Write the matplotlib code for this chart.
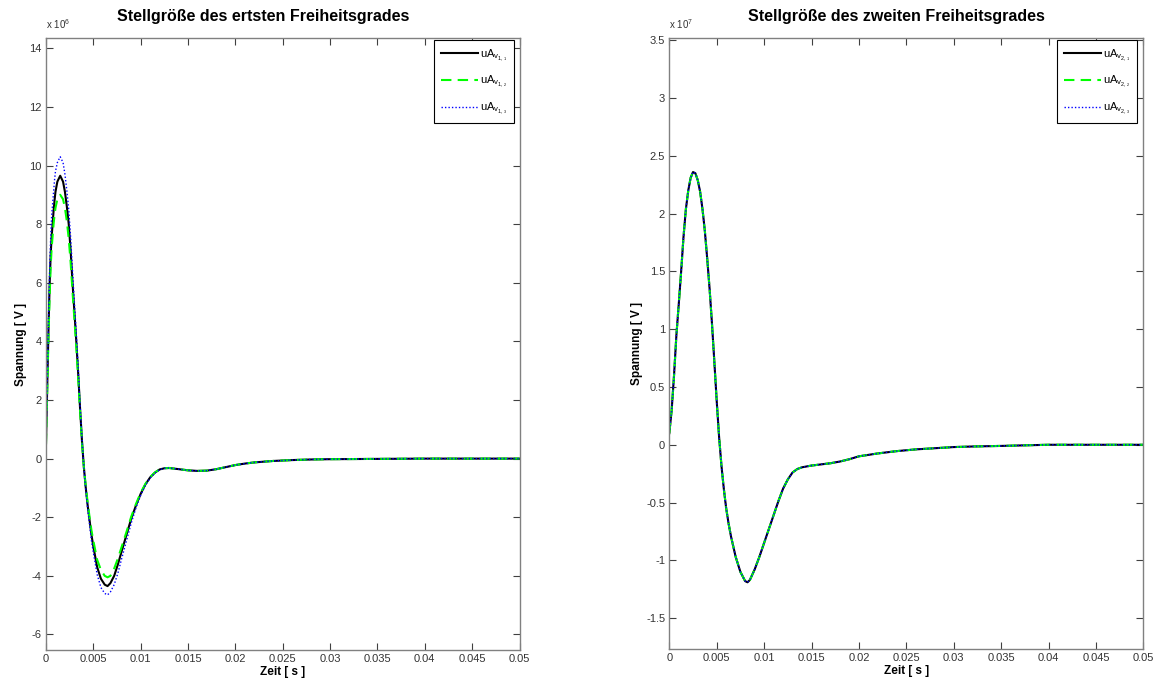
import matplotlib
matplotlib.use("Agg")
from matplotlib import pyplot as plt
import numpy as np

plt.rcParams["font.family"] = ["Liberation Sans", "DejaVu Sans"]
plt.rcParams["mathtext.default"] = "regular"

# time axis in ms
t_left = [0, 0.1, 0.2, 0.3, 0.4, 0.5, 0.6, 0.7, 0.8, 0.9, 1.0, 1.2, 1.5, 1.8, 2.0,
          2.2, 2.4, 2.6, 2.8, 3.0, 3.2, 3.4, 3.6, 3.8, 4.0, 4.2, 4.4, 4.6, 4.8, 5.0,
          5.4, 5.8, 6.2, 6.5, 6.8, 7.2, 7.6, 8.0, 8.5, 9.0, 9.5, 10.0, 10.5, 11.0,
          11.5, 12.0, 12.5, 13, 14, 15, 16, 17, 18, 19, 20, 21, 22, 24, 26, 28, 30,
          35, 40, 45, 50]

# first degree of freedom, x 1e6 V
u1_1 = [0.5, 2.0, 3.5, 4.9, 6.1, 7.0, 7.6, 8.0, 8.45, 8.8, 9.1, 9.45, 9.65, 9.45, 9.1,
        8.6, 8.0, 7.1, 6.0, 5.0, 4.0, 2.9, 1.7, 0.6, -0.3, -1.0, -1.6, -2.1, -2.6, -3.0,
        -3.7, -4.1, -4.3, -4.35, -4.25, -4.0, -3.6, -3.15, -2.6, -2.05, -1.6, -1.2,
        -0.88, -0.64, -0.48, -0.37, -0.33, -0.32, -0.36, -0.4, -0.42, -0.41, -0.36,
        -0.29, -0.22, -0.17, -0.13, -0.08, -0.05, -0.03, -0.02, -0.01, 0, 0, 0]
u1_2 = [0.5, 1.9, 3.3, 4.6, 5.7, 6.6, 7.2, 7.6, 8.0, 8.3, 8.55, 8.85, 9.0, 8.85, 8.55,
        8.1, 7.5, 6.7, 5.7, 4.75, 3.8, 2.75, 1.6, 0.55, -0.3, -0.95, -1.5, -2.0, -2.45,
        -2.8, -3.45, -3.8, -4.0, -4.05, -4.0, -3.75, -3.4, -3.0, -2.5, -1.98, -1.55,
        -1.16, -0.86, -0.63, -0.47, -0.37, -0.33, -0.32, -0.36, -0.4, -0.42, -0.41,
        -0.36, -0.29, -0.22, -0.17, -0.13, -0.08, -0.05, -0.03, -0.02, -0.01, 0, 0, 0]
u1_3 = [0.5, 2.1, 3.8, 5.3, 6.6, 7.6, 8.3, 8.7, 9.1, 9.5, 9.8, 10.1, 10.3, 10.1, 9.7,
        9.15, 8.5, 7.55, 6.4, 5.3, 4.25, 3.1, 1.8, 0.65, -0.3, -1.05, -1.7, -2.25, -2.8,
        -3.2, -3.95, -4.4, -4.6, -4.65, -4.55, -4.3, -3.9, -3.4, -2.8, -2.2, -1.68,
        -1.25, -0.9, -0.66, -0.49, -0.38, -0.33, -0.32, -0.36, -0.4, -0.42, -0.41, -0.36,
        -0.29, -0.22, -0.17, -0.13, -0.08, -0.05, -0.03, -0.02, -0.01, 0, 0, 0]

t_right = [0, 0.25, 0.5, 0.75, 1.0, 1.25, 1.5, 1.75, 2.0, 2.25, 2.5, 2.75, 3.0, 3.25,
           3.5, 3.75, 4.0, 4.25, 4.5, 4.75, 5.0, 5.25, 5.5, 5.75, 6.0, 6.25, 6.5, 7.0,
           7.5, 8.0, 8.25, 8.5, 9.0, 9.5, 10.0, 10.5, 11.0, 11.5, 12.0, 12.5, 13.0,
           13.5, 14.0, 15.0, 16.0, 17.0, 18.0, 19.0, 20.0, 22, 24, 26, 28, 30, 32, 35,
           40, 45, 50]

# second degree of freedom, x 1e7 V (all three practically identical)
u2_1 = [0.1, 0.3, 0.6, 0.95, 1.22, 1.5, 1.8, 2.04, 2.2, 2.31, 2.36, 2.35, 2.29, 2.19,
        2.04, 1.85, 1.61, 1.35, 1.05, 0.72, 0.38, 0.07, -0.18, -0.38, -0.55, -0.68,
        -0.79, -0.97, -1.1, -1.18, -1.19, -1.17, -1.08, -0.97, -0.85, -0.73, -0.61,
        -0.49, -0.38, -0.3, -0.24, -0.21, -0.195, -0.18, -0.17, -0.16, -0.145, -0.125,
        -0.1, -0.075, -0.055, -0.04, -0.03, -0.02, -0.015, -0.01, 0, 0, 0]
u2_2 = list(u2_1)
u2_3 = list(u2_1)

xticks = [0, 0.005, 0.01, 0.015, 0.02, 0.025, 0.03, 0.035, 0.04, 0.045, 0.05]
xticklabels = ["0", "0.005", "0.01", "0.015", "0.02", "0.025", "0.03", "0.035",
               "0.04", "0.045", "0.05"]
yticks_left = [-6, -4, -2, 0, 2, 4, 6, 8, 10, 12, 14]
yticks_right = [-1.5, -1, -0.5, 0, 0.5, 1, 1.5, 2, 2.5, 3, 3.5]
yticklabels_right = ["-1.5", "-1", "-0.5", "0", "0.5", "1", "1.5", "2", "2.5", "3", "3.5"]

labels_left = [r"uA$_{v_{1,_1}}$", r"uA$_{v_{1,_2}}$", r"uA$_{v_{1,_3}}$"]
labels_right = [r"uA$_{v_{2,_1}}$", r"uA$_{v_{2,_2}}$", r"uA$_{v_{2,_3}}$"]

W, H = 1162, 686
fig = plt.figure(figsize=(W / 100, H / 100), dpi=100)

styles = [dict(color="black", ls="-", lw=1.5),
          dict(color="#00ff00", ls=(0, (5, 3)), lw=1.5),
          dict(color="#0000ff", ls=(0, (1, 1.5)), lw=1.0)]


def setup(ax, ylim, yticks, yticklabels, title, title_x, expo):
    ax.set_xlim(0, 0.05)
    ax.set_ylim(*ylim)
    ax.set_xticks(xticks)
    ax.set_xticklabels(xticklabels)
    ax.set_yticks(yticks)
    ax.set_yticklabels(yticklabels)
    ax.tick_params(direction="in", length=5, width=0.8, colors="#404040",
                   labelsize=8, top=True, right=True, labelcolor="#333333", pad=3)
    for sp in ax.spines.values():
        sp.set_color("#808080")
        sp.set_linewidth(1.0)
    ax.set_title(title, fontsize=11.5, fontweight="bold", pad=12, x=title_x)
    ax.set_xlabel("Zeit [ s ]", fontsize=8.5, fontweight="bold", labelpad=1)
    ax.set_ylabel("Spannung [ V ]", fontsize=8.5, fontweight="bold", labelpad=2)
    ax.text(0.0, 1.012, expo, transform=ax.transAxes, fontsize=7, color="#333333",
            ha="left", va="bottom")


def px(x0, y0, x1, y1):
    return [x0 / W, 1 - y1 / H, (x1 - x0) / W, (y1 - y0) / H]


ax1 = fig.add_axes(px(46, 38, 519.5, 650))
t1 = np.array(t_left) / 1000
for y, st, lab in zip([u1_1, u1_2, u1_3], styles, labels_left):
    ax1.plot(t1, y, label=lab, **st)
setup(ax1, (-6.53, 14.35), yticks_left, [str(v) for v in yticks_left],
      "Stellgröße des ertsten Freiheitsgrades", 0.459, r"x 10$^{6}$")

ax2 = fig.add_axes(px(669.3, 38, 1143.3, 649.3))
t2 = np.array(t_right) / 1000
for y, st, lab in zip([u2_1, u2_2, u2_3], styles, labels_right):
    ax2.plot(t2, y, label=lab, **st)
setup(ax2, (-1.77, 3.52), yticks_right, yticklabels_right,
      "Stellgröße des zweiten Freiheitsgrades", 0.479, r"x 10$^{7}$")

for ax, xr in [(ax1, 514), (ax2, 1137)]:
    leg = ax.legend(loc="upper right", bbox_to_anchor=(xr / W, 1 - 40 / H),
                    bbox_transform=fig.transFigure, borderaxespad=0, fontsize=8,
                    handlelength=3.3, handletextpad=0.2, labelspacing=1.0,
                    fancybox=False, framealpha=1, edgecolor="black",
                    borderpad=0.6)
    leg.get_frame().set_linewidth(0.8)

fig.savefig("out.png", dpi=100)
